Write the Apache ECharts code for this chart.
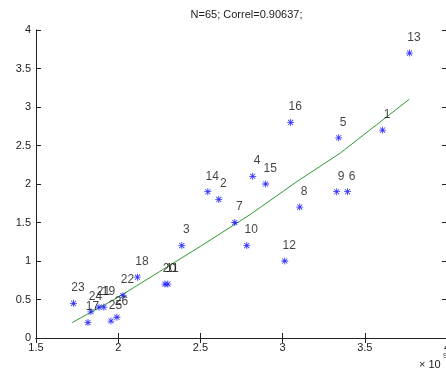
<!DOCTYPE html>
<html>
<head>
<meta charset="utf-8">
<script src="https://cdn.jsdelivr.net/npm/echarts@6/dist/echarts.min.js"></script>
<style>
html,body{margin:0;padding:0;background:#fff;}
#c{width:446px;height:373px;}
</style>
</head>
<body>
<div id="c"></div>
<script>
// Data
var pointIds = ['1','2','3','4','5','6','7','8','9','10','11','12','13','14','15','16','17','18','19','20','21','22','23','24','25','26'];
var pointX = [3.608,2.612,2.387,2.818,3.341,3.395,2.709,3.104,3.329,2.782,2.302,3.013,3.772,2.545,2.897,3.049,1.816,2.117,1.913,2.284,1.883,2.029,1.728,1.834,1.956,1.992];
var pointY = [2.70,1.80,1.20,2.10,2.60,1.90,1.50,1.70,1.90,1.20,0.70,1.00,3.70,1.90,2.00,2.80,0.20,0.79,0.40,0.70,0.40,0.55,0.45,0.34,0.22,0.27];
var fitX = [1.72,2.0,2.25,2.5,2.8,3.1,3.35,3.77];
var fitY = [0.20,0.53,0.86,1.19,1.60,2.05,2.40,3.10];
var titleText = 'N=65; Correl=0.90637;';

var starPath = 'path://M0 4.4L10 4.4L10 5.6L0 5.6Z M4.4 0L5.6 0L5.6 10L4.4 10Z M1 1.8L1.8 1L9 8.2L8.2 9Z M8.2 1L9 1.8L1.8 9L1 8.2Z';

var scatterData = pointIds.map(function(id,i){ return {name:id, value:[pointX[i], pointY[i]]}; });
var lineData = fitX.map(function(x,i){ return [x, fitY[i]]; });

var chart = echarts.init(document.getElementById('c'), null, {renderer:'canvas'});
var axisFont = {fontFamily:'Liberation Sans, Arial, sans-serif', fontSize:11, color:'#222'};
chart.setOption({
  backgroundColor:'#fff',
  animation:false,
  title:{text:titleText, left:241.5, top:4, textAlign:'center',
    textStyle:{fontFamily:'Liberation Sans, Arial, sans-serif', fontSize:11, fontWeight:'normal', color:'#222'}},
  grid:{left:36, top:30, width:411, height:308, show:false, containLabel:false, outerBoundsMode:'none'},
  xAxis:[
    {type:'value', min:1.5, max:4, interval:0.5, position:'bottom',
     axisLine:{show:true, lineStyle:{color:'#222', width:1}},
     axisTick:{show:true, inside:true, length:5, lineStyle:{color:'#222'}},
     axisLabel:Object.assign({margin:4}, axisFont),
     splitLine:{show:false}},
    {type:'value', min:1.5, max:4, interval:0.5, position:'top',
     axisLine:{show:true, lineStyle:{color:'#222', width:1}},
     axisTick:{show:true, inside:true, length:5, lineStyle:{color:'#222'}},
     axisLabel:{show:false}, splitLine:{show:false}}
  ],
  yAxis:[
    {type:'value', min:0, max:4, interval:0.5, position:'left',
     axisLine:{show:true, lineStyle:{color:'#222', width:1}},
     axisTick:{show:true, inside:true, length:5, lineStyle:{color:'#222'}},
     axisLabel:Object.assign({margin:5}, axisFont),
     splitLine:{show:false}},
    {type:'value', min:0, max:4, interval:0.5, position:'right',
     axisLine:{show:true, lineStyle:{color:'#222', width:1}},
     axisTick:{show:true, inside:true, length:5, lineStyle:{color:'#222'}},
     axisLabel:{show:false}, splitLine:{show:false}}
  ],
  series:[
    {type:'line', data:lineData, xAxisIndex:0, yAxisIndex:0, showSymbol:false, symbol:'none',
     lineStyle:{color:'#2f9a2f', width:1}, z:2},
    {type:'scatter', data:scatterData, xAxisIndex:0, yAxisIndex:0,
     symbol:starPath, symbolSize:7, itemStyle:{color:'#0000ff'},
     labelLayout:{hideOverlap:false},
     label:{show:true, position:[8,-18], align:'center', formatter:'{b}',
       fontFamily:'Liberation Sans, Arial, sans-serif', fontSize:12, color:'#111'}, z:3}
  ],
  graphic:[
    {type:'text', left:419, top:359, style:{text:'× 10', font:'11px Liberation Sans, Arial, sans-serif', fill:'#222'}},
    {type:'text', left:443, top:352, style:{text:'9', font:'8px Liberation Sans, Arial, sans-serif', fill:'#222'}}
  ]
});
</script>
</body>
</html>
